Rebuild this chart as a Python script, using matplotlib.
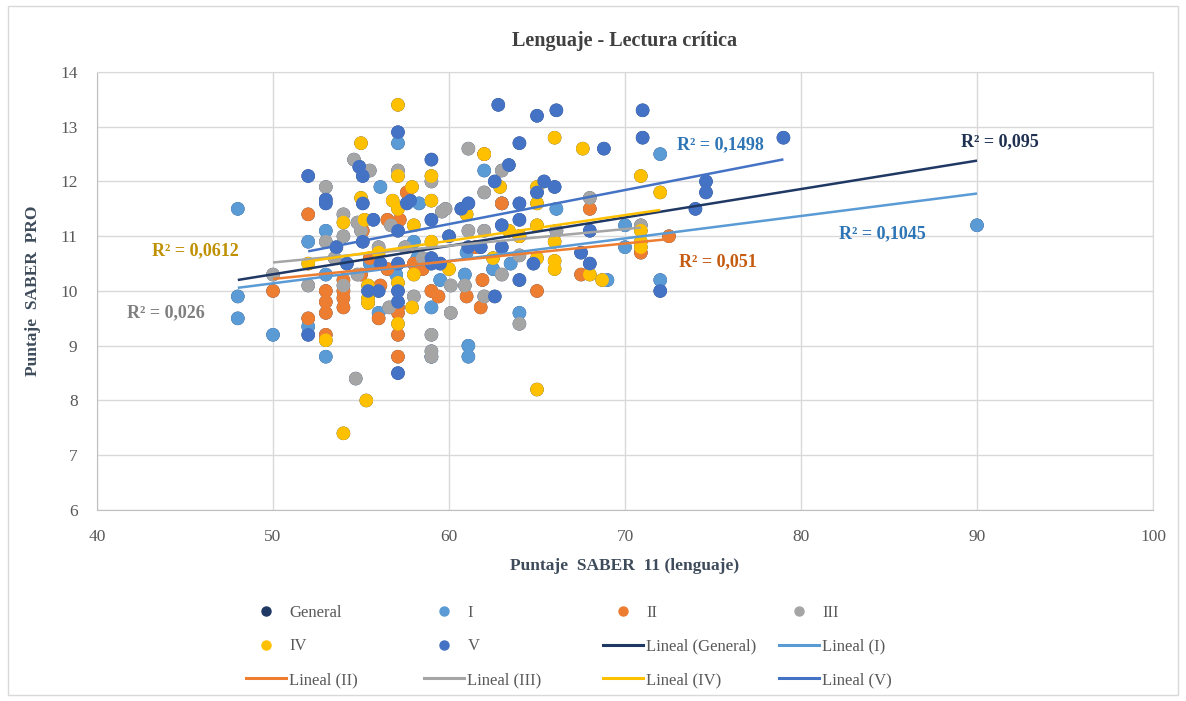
import numpy as np
import matplotlib
matplotlib.use("Agg")
import matplotlib.pyplot as plt
from matplotlib.lines import Line2D
from matplotlib.patches import Rectangle

# ---------------- data ----------------
title = "Lenguaje - Lectura crítica"
x_label = "Puntaje  SABER  11 (lenguaje)"
y_label = "Puntaje  SABER  PRO"
series_names = ["General", "I", "II", "III", "IV", "V"]
x_ticks = [40, 50, 60, 70, 80, 90, 100]
y_ticks = [6, 7, 8, 9, 10, 11, 12, 13, 14]

i_x = [48, 48, 48, 50, 52, 52, 53, 53, 56.1, 56, 57.1, 58.3, 58, 58.2, 59, 59, 60.9, 61,
       61.1, 61.1, 62, 63, 64, 66.1, 66.1, 70, 70, 69, 72, 72, 90, 55.5, 57, 59.5, 63.5, 53, 62.5]
i_y = [11.5, 9.9, 9.5, 9.2, 10.9, 9.35, 11.1, 8.8, 11.9, 9.6, 12.7, 11.6, 10.9, 10.6, 9.7, 8.8, 10.3, 10.7,
       9.0, 8.8, 12.2, 11.6, 9.6, 11.5, 11.1, 11.2, 10.8, 10.2, 12.5, 10.2, 11.2, 10.5, 10.3, 10.2, 10.5, 10.3, 10.4]

ii_x = [50, 52, 52, 53, 53, 53, 53, 54, 54, 54, 54, 55.1, 55, 56, 56.1, 56.5, 57.2, 57.1, 57.1, 57.1,
        57.1, 57.6, 58, 58.5, 59, 59.4, 61, 61.8, 61.9, 62, 61.5, 63, 64, 65, 67.5, 68, 70.9, 72.5,
        55.5, 56.5]
ii_y = [10.0, 11.4, 9.5, 10.0, 9.8, 9.6, 9.2, 10.2, 10.0, 9.87, 9.7, 11.1, 10.3, 9.5, 10.1, 11.3, 11.3, 9.6, 9.2, 8.8,
        9.7, 11.8, 10.5, 10.4, 10.0, 9.9, 9.9, 9.7, 10.2, 12.5, 10.8, 11.6, 11.0, 10.0, 10.3, 11.5, 10.7, 11.0,
        10.6, 10.4]

iii_x = [50, 52, 53, 53, 53.5, 54, 54, 54, 54.6, 54.7, 54.8, 54.8, 55.5, 55, 56, 56.6, 56.7, 57.1, 58, 59,
         59, 59, 59, 59.6, 59.8, 60.1, 60.1, 60.9, 61.1, 61.1, 62, 62, 62, 63, 63, 64, 64, 66.1, 68, 70.9,
         57.5, 58.5]
iii_y = [10.3, 10.1, 11.9, 10.9, 10.6, 11.4, 11.0, 10.1, 12.4, 8.4, 11.25, 10.3, 12.2, 11.1, 10.8, 9.7, 11.2, 12.2, 9.9, 12.0,
         9.2, 8.9, 8.8, 11.45, 11.5, 10.1, 9.6, 10.1, 12.6, 11.1, 11.8, 11.1, 9.9, 12.2, 10.3, 10.65, 9.4, 11.1, 11.7, 11.2,
         10.8, 10.6]

iv_x = [52, 53, 54, 54, 55, 55, 55.2, 55.3, 55.4, 55.4, 55.4, 56.8, 57.1, 57.1, 57.1, 57.1, 57.1, 57.9, 57.9, 58,
        58, 59, 59, 59, 61, 62, 62.9, 63.4, 64, 65, 65, 65, 65, 65, 66, 66, 66, 66, 67.6, 68, 68.7, 70.9,
        70.9, 70.9, 70.9, 72, 56, 60, 62.5]
iv_y = [10.5, 9.1, 11.25, 7.4, 12.7, 11.7, 11.3, 8.0, 10.1, 9.87, 9.78, 11.65, 13.4, 12.1, 11.5, 10.15, 9.4, 11.9, 9.7, 11.2,
        10.3, 12.1, 11.65, 10.9, 11.4, 12.5, 11.9, 11.1, 11.0, 11.9, 11.6, 11.2, 10.6, 8.2, 12.8, 10.9, 10.55, 10.4, 12.6, 10.3, 10.2, 12.1,
        10.9, 10.8, 11.1, 11.8, 10.7, 10.4, 10.6]

v_x = [52, 52, 53, 53, 53.6, 54.2, 54.9, 55.1, 55.1, 55.1, 55.4, 55.7, 56, 56.1, 57.1, 57.1, 57.1, 57.1, 57.1, 57.1,
       57.8, 57.6, 59, 59, 59, 59, 59.5, 60, 60.7, 61.1, 61.1, 61.8, 62.6, 62.6, 62.8, 63, 63, 63.4, 64, 64,
       64, 64, 64.8, 65, 65, 65.4, 66.1, 66, 67.5, 68, 68, 68.8, 71, 71, 72, 74, 74.6, 74.6, 79]
v_y = [12.1, 9.2, 11.67, 11.6, 10.8, 10.5, 12.27, 12.1, 11.6, 10.9, 10.0, 11.3, 10.0, 10.5, 12.9, 11.1, 10.5, 10.0, 9.8, 8.5,
       11.65, 11.6, 12.4, 11.3, 10.6, 10.5, 10.5, 11.0, 11.5, 11.6, 10.8, 10.8, 12.0, 9.9, 13.4, 11.2, 10.8, 12.3, 12.7, 11.6,
       11.3, 10.2, 10.5, 13.2, 11.8, 12.0, 13.3, 11.9, 10.7, 11.1, 10.5, 12.6, 13.3, 12.8, 10.0, 11.5, 12.0, 11.8, 12.8]

general_x = i_x + ii_x + iii_x + iv_x + v_x
general_y = i_y + ii_y + iii_y + iv_y + v_y

# linear trend lines (slope, intercept), order = series_names
trend_slope = [0.0519, 0.0410, 0.0324, 0.0305, 0.0470, 0.0622]
trend_intercept = [7.71, 8.09, 8.60, 8.996, 8.096, 7.49]
r2_labels = ["R² = 0,095", "R² = 0,1045", "R² = 0,051", "R² = 0,026", "R² = 0,0612", "R² = 0,1498"]

# ---------------- style ----------------
colors = ["#203864", "#5B9BD5", "#ED7D31", "#A5A5A5", "#FFC000", "#4472C4"]
r2_colors = ["#1F3050", "#2E75B6", "#C55A11", "#7F7F7F", "#BF9000", "#2E75B6"]
r2_pos = [(91.3, 12.72), (84.6, 11.04), (75.3, 10.53), (43.9, 9.6), (45.6, 10.73), (75.4, 12.67)]
serif = ["Liberation Serif", "DejaVu Serif"]
plt.rcParams["font.family"] = serif

fig = plt.figure(figsize=(11.86, 7.01), dpi=100)
ax = fig.add_axes([0.0818, 0.2725, 0.8904, 0.6248])

xs_all = [general_x, i_x, ii_x, iii_x, iv_x, v_x]
ys_all = [general_y, i_y, ii_y, iii_y, iv_y, v_y]

for xs, ys, c in zip(xs_all, ys_all, colors):
    ax.scatter(xs, ys, s=95, color=c, edgecolors="none", zorder=3)

for k, (xs, c) in enumerate(zip(xs_all, colors)):
    xx = np.array([min(xs), max(xs)])
    ax.plot(xx, trend_slope[k] * xx + trend_intercept[k], color=c, lw=1.8, zorder=4,
            solid_capstyle="butt")

for k in range(6):
    ax.text(r2_pos[k][0], r2_pos[k][1], r2_labels[k], color=r2_colors[k], fontsize=13,
            fontweight="bold", ha="center", va="center", zorder=5)

ax.set_xlim(40, 100)
ax.set_ylim(6, 14)
ax.set_xticks(x_ticks)
ax.set_yticks(y_ticks)
ax.grid(True, color="#D9D9D9", lw=1.0, zorder=0)
ax.set_axisbelow(True)
for side in ["top", "right"]:
    ax.spines[side].set_color("#D9D9D9")
for side in ["left", "bottom"]:
    ax.spines[side].set_color("#BFBFBF")
ax.tick_params(length=0, labelsize=12.5, labelcolor="#595959", pad=14)

ax.set_title(title, fontsize=14.5, fontweight="bold", color="#404040", pad=19)
ax.set_xlabel(x_label, fontsize=12.5, fontweight="bold", color="#3E4B5B", labelpad=9)
ax.set_ylabel(y_label, fontsize=12.5, fontweight="bold", color="#3E4B5B", labelpad=14)

# legend, row-major in 4 columns
handles = []
labels = []
for n, c in zip(series_names, colors):
    handles.append(Line2D([], [], ls="none", marker="o", markersize=6.5, color=c))
    labels.append(n)
for n, c in zip(series_names, colors):
    handles.append(Line2D([], [], color=c, lw=2.2))
    labels.append("Lineal (" + n + ")")

col_x = [246, 424, 603, 779]
for col in range(4):
    idx = [col, col + 4, col + 8]
    fig.legend([handles[j] for j in idx], [labels[j] for j in idx],
               loc="upper left", bbox_to_anchor=(col_x[col] / 1186, 1 - 605 / 701),
               frameon=False, fontsize=12, handlelength=2.4, handletextpad=0.2,
               borderpad=0, borderaxespad=0, labelspacing=1.05, labelcolor="#595959")

fig.patches.append(Rectangle((8 / 1186, 6 / 701), 1 - 16 / 1186, 1 - 12 / 701,
                             transform=fig.transFigure, fill=False, ec="#D9D9D9", lw=1.0))

fig.savefig("out.png", dpi=100, facecolor="white")
